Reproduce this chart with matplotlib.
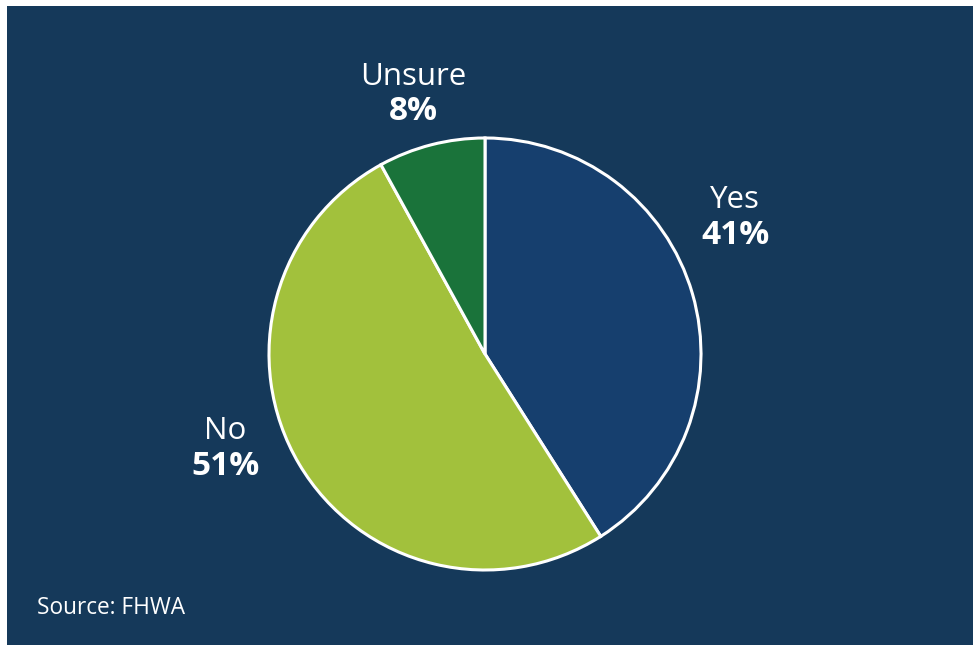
import numpy as np
import matplotlib.pyplot as plt
from matplotlib.patches import Rectangle

labels = ['Yes', 'No', 'Unsure']
shares = [41, 51, 8]
colors = ['#163f6e', '#a2c13c', '#1a733a']

# where each label block sits, as (angle in degrees, distance in pie radii)
label_pos = [(28.6, 1.32), (200.0, 1.28), (105.4, 1.25)]

W, H = 973, 645
fig = plt.figure(figsize=(W / 100, H / 100), dpi=100)
fig.patch.set_facecolor('white')
bg = '#15395a'
fig.add_artist(Rectangle((7 / W, -0.1), 1.2, 1.1 - 6 / H,
                         transform=fig.transFigure, facecolor=bg,
                         edgecolor='none', zorder=-5))

# pie centre and radius in pixels
cx, cy, r = 485, 354, 216
ax = fig.add_axes([(cx - r) / W, 1 - (cy + r) / H, 2 * r / W, 2 * r / H])
ax.set_zorder(1)
ax.set_facecolor('none')
ax.pie(shares, colors=colors, startangle=90, counterclock=False,
       wedgeprops=dict(edgecolor='white', linewidth=2.2))
ax.set_xlim(-1, 1)
ax.set_ylim(-1, 1)
ax.set_aspect('equal')
ax.axis('off')

font = ['Open Sans', 'DejaVu Sans']
for name, val, (ang, dist) in zip(labels, shares, label_pos):
    x = dist * np.cos(np.radians(ang))
    y = dist * np.sin(np.radians(ang))
    ax.text(x, y + 0.01, name, ha='center', va='bottom', color='white',
            fontsize=22.5, family=font, clip_on=False)
    ax.text(x, y - 0.005, f'{val}%', ha='center', va='top', color='white',
            fontsize=24, fontweight='bold', family=font, clip_on=False)

fig.text(37 / W, 1 - 608 / H, 'Source: FHWA', ha='left', va='center',
         color='white', fontsize=16.3, family=font, zorder=2)

fig.savefig('out.png', dpi=100, facecolor=fig.get_facecolor())
